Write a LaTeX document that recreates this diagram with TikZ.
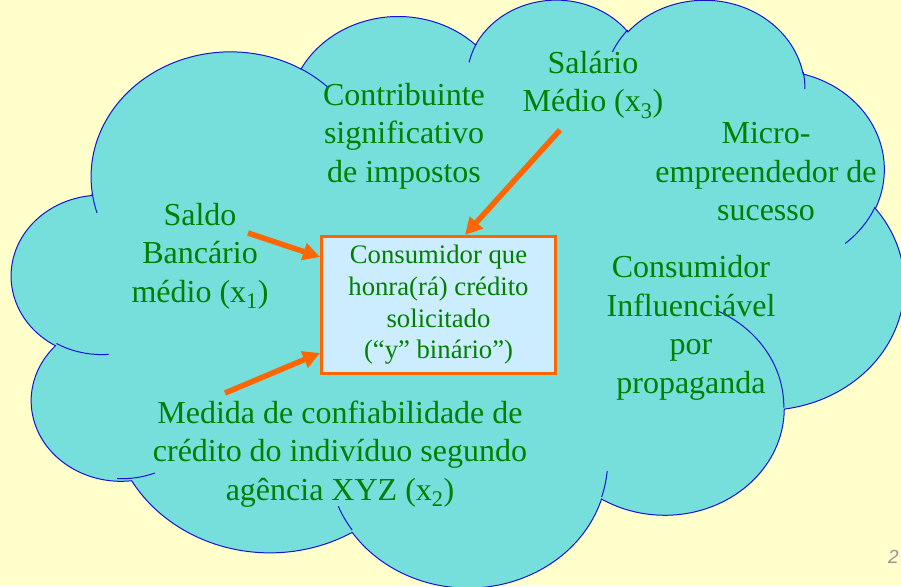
\documentclass[tikz,border=0pt]{standalone}
\usepackage{fontspec}
\setmainfont{Liberation Serif}
\setsansfont{Liberation Sans}
\usetikzlibrary{arrows.meta}
\definecolor{bgyellow}{RGB}{255,255,204}
\definecolor{cloudcyan}{RGB}{118,222,219}
\definecolor{cloudblue}{RGB}{20,20,210}
\definecolor{txtgreen}{RGB}{0,128,0}
\definecolor{boxblue}{RGB}{204,236,255}
\definecolor{arrorange}{RGB}{255,102,0}
\definecolor{pagegray}{RGB}{150,150,150}
\makeatletter
% parametric start/end angles of an arc given by visual start angle and sweep
\newcommand\cloudang[5]{%
  \pgfmathsetmacro\cl@a{atan2((#2)*sin(#4),(#3)*cos(#4))}%
  \pgfmathsetmacro\cl@b{atan2((#2)*sin((#4)+(#5)),(#3)*cos((#4)+(#5)))}%
  \pgfmathsetmacro\cl@b{\cl@b+360*round((\cl@a+(#5)-\cl@b)/360)}%
  \expandafter\xdef\csname cla#1\endcsname{\cl@a}%
  \expandafter\xdef\csname clb#1\endcsname{\cl@b}%
}
\makeatother
\begin{document}
\begin{tikzpicture}[x=1pt,y=-1pt,
  lbl/.style={text=txtgreen, font=\fontsize{32}{38.5}\selectfont, align=center, inner sep=0pt},
  target/.style={draw=arrorange, line width=3pt, fill=boxblue, minimum width=234pt,
    minimum height=137pt, align=center, text=txtgreen, inner sep=0pt,
    font=\fontsize{26.7}{31.7}\selectfont},
  arr/.style={draw=arrorange, line width=5.5pt, -{Triangle[length=17pt,width=17pt]}},
  cloudline/.style={draw=cloudblue, line width=1pt},
  pagenum/.style={text=pagegray, font=\sffamily\itshape\fontsize{19}{19}\selectfont, inner sep=0pt}]
\cloudang{A}{675.3}{919.0}{-190.48748}{123.78053}
\cloudang{B}{533.3}{726.7}{-144.10238}{89.94523}
\cloudang{C}{436.5}{594.5}{-145.80792}{99.72302}
\cloudang{D}{485.7}{659.5}{-130.98607}{117.24173}
\cloudang{E}{533.3}{727.3}{-78.70888}{109.02692}
\cloudang{F}{677.5}{922.0}{-46.26725}{130.269}
\cloudang{G}{578.5}{786.7}{0.62502}{114.03333}
\cloudang{H}{675.2}{921.5}{22.4516}{115.17255}
\cloudang{I}{772.0}{1054.3}{66.24263}{75.71102}
\cloudang{J}{436.0}{591.8}{-274.94208}{146.73557}
\cloudang{K}{434.5}{594.5}{-246.8285}{152.51885}
\cloudang{L}{434.5}{594.5}{86.742}{26.4295}
\cloudang{M}{436.0}{591.8}{73.61047}{18.40805}
\cloudang{N}{675.2}{921.5}{137.62415}{14.0811}
\cloudang{O}{675.2}{921.5}{6.45327}{15.99835}
\cloudang{P}{578.5}{786.7}{-70.29235}{70.91737}
\cloudang{Q}{533.3}{727.3}{30.31803}{27.7515}
\cloudang{R}{485.7}{659.5}{-13.74433}{14.8589}
\cloudang{S}{485.7}{659.5}{-149.18145}{18.19537}
\cloudang{T}{436.5}{594.5}{-163.49427}{17.68635}
\cloudang{U}{675.3}{919.0}{-66.70695}{12.31935}
\cloudang{V}{675.3}{919.0}{157.65435}{11.85817}
\fill[bgyellow] (0,0) rectangle (901,586);
\useasboundingbox (0,0) rectangle (901,586);
\begin{scope}[shift={(11.8,-1.8)}, x=0.20653pt, y=-0.13605pt]
  \path[fill=cloudcyan, cloudline] (390,1437)
    arc[start angle=\claA, end angle=\clbA, x radius=675.3, y radius=919.0]
    arc[start angle=\claB, end angle=\clbB, x radius=533.3, y radius=726.7]
    arc[start angle=\claC, end angle=\clbC, x radius=436.5, y radius=594.5]
    arc[start angle=\claD, end angle=\clbD, x radius=485.7, y radius=659.5]
    arc[start angle=\claE, end angle=\clbE, x radius=533.3, y radius=727.3]
    arc[start angle=\claF, end angle=\clbF, x radius=677.5, y radius=922.0]
    arc[start angle=\claG, end angle=\clbG, x radius=578.5, y radius=786.7]
    arc[start angle=\claH, end angle=\clbH, x radius=675.2, y radius=921.5]
    arc[start angle=\claI, end angle=\clbI, x radius=772.0, y radius=1054.3]
    arc[start angle=\claJ, end angle=\clbJ, x radius=436.0, y radius=591.8]
    arc[start angle=\claK, end angle=\clbK, x radius=434.5, y radius=594.5]
    -- cycle;
  \path[cloudline]
    (469.3,2617.7) arc[start angle=\claL, end angle=\clbL, x radius=434.5, y radius=594.5]
    (692.8,3489.9) arc[start angle=\claM, end angle=\clbM, x radius=436.0, y radius=591.8]
    (1647.8,3909.0) arc[start angle=\claN, end angle=\clbN, x radius=675.2, y radius=921.5]
    (2882.7,3475.1) arc[start angle=\claO, end angle=\clbO, x radius=675.2, y radius=921.5]
    (3412.9,2295.4) arc[start angle=\claP, end angle=\clbP, x radius=578.5, y radius=786.7]
    (4179.8,1535.4) arc[start angle=\claQ, end angle=\clbQ, x radius=533.3, y radius=727.3]
    (3832.4,542.6) arc[start angle=\claR, end angle=\clbR, x radius=485.7, y radius=659.5]
    (2907.8,395.2) arc[start angle=\claS, end angle=\clbS, x radius=485.7, y radius=659.5]
    (2214.1,472.0) arc[start angle=\claT, end angle=\clbT, x radius=436.5, y radius=594.5]
    (1400.0,519.2) arc[start angle=\claU, end angle=\clbU, x radius=675.3, y radius=919.0]
    (412.7,1578.9) arc[start angle=\claV, end angle=\clbV, x radius=675.3, y radius=919.0];
\end{scope}
\node[lbl] (contrib) at (404,136) {Contribuinte\\significativo\\de impostos};
\node[lbl] (salario) at (593,85) {Salário\\Médio (x\textsubscript{3})};
\node[lbl] (micro) at (766,172) {Micro-\\empreendedor de\\sucesso};
\node[lbl] (saldo) at (200,256) {Saldo\\Bancário\\médio (x\textsubscript{1})};
\node[lbl] (influ) at (691,328) {Consumidor\\Influenciável\\por\\propaganda};
\node[lbl] (medida) at (340,454) {Medida de confiabilidade de\\crédito do indivíduo segundo\\agência XYZ (x\textsubscript{2})};
\node[target] (box) at (438.5,305) {Consumidor que\\honra(rá) crédito\\solicitado\\(“y” binário”)};
\coordinate (t1) at (248,233);
\coordinate (t2) at (225,393);
\coordinate (t3) at (560,130);
\draw[arr] (t1) -- (box.west |- 0,257);
\draw[arr] (t2) -- (box.west |- 0,353);
\draw[arr] (t3) -- (box.north -| 465,0);
\node[pagenum, anchor=base west] (pg) at (888,563) {2};
\end{tikzpicture}
\end{document}
